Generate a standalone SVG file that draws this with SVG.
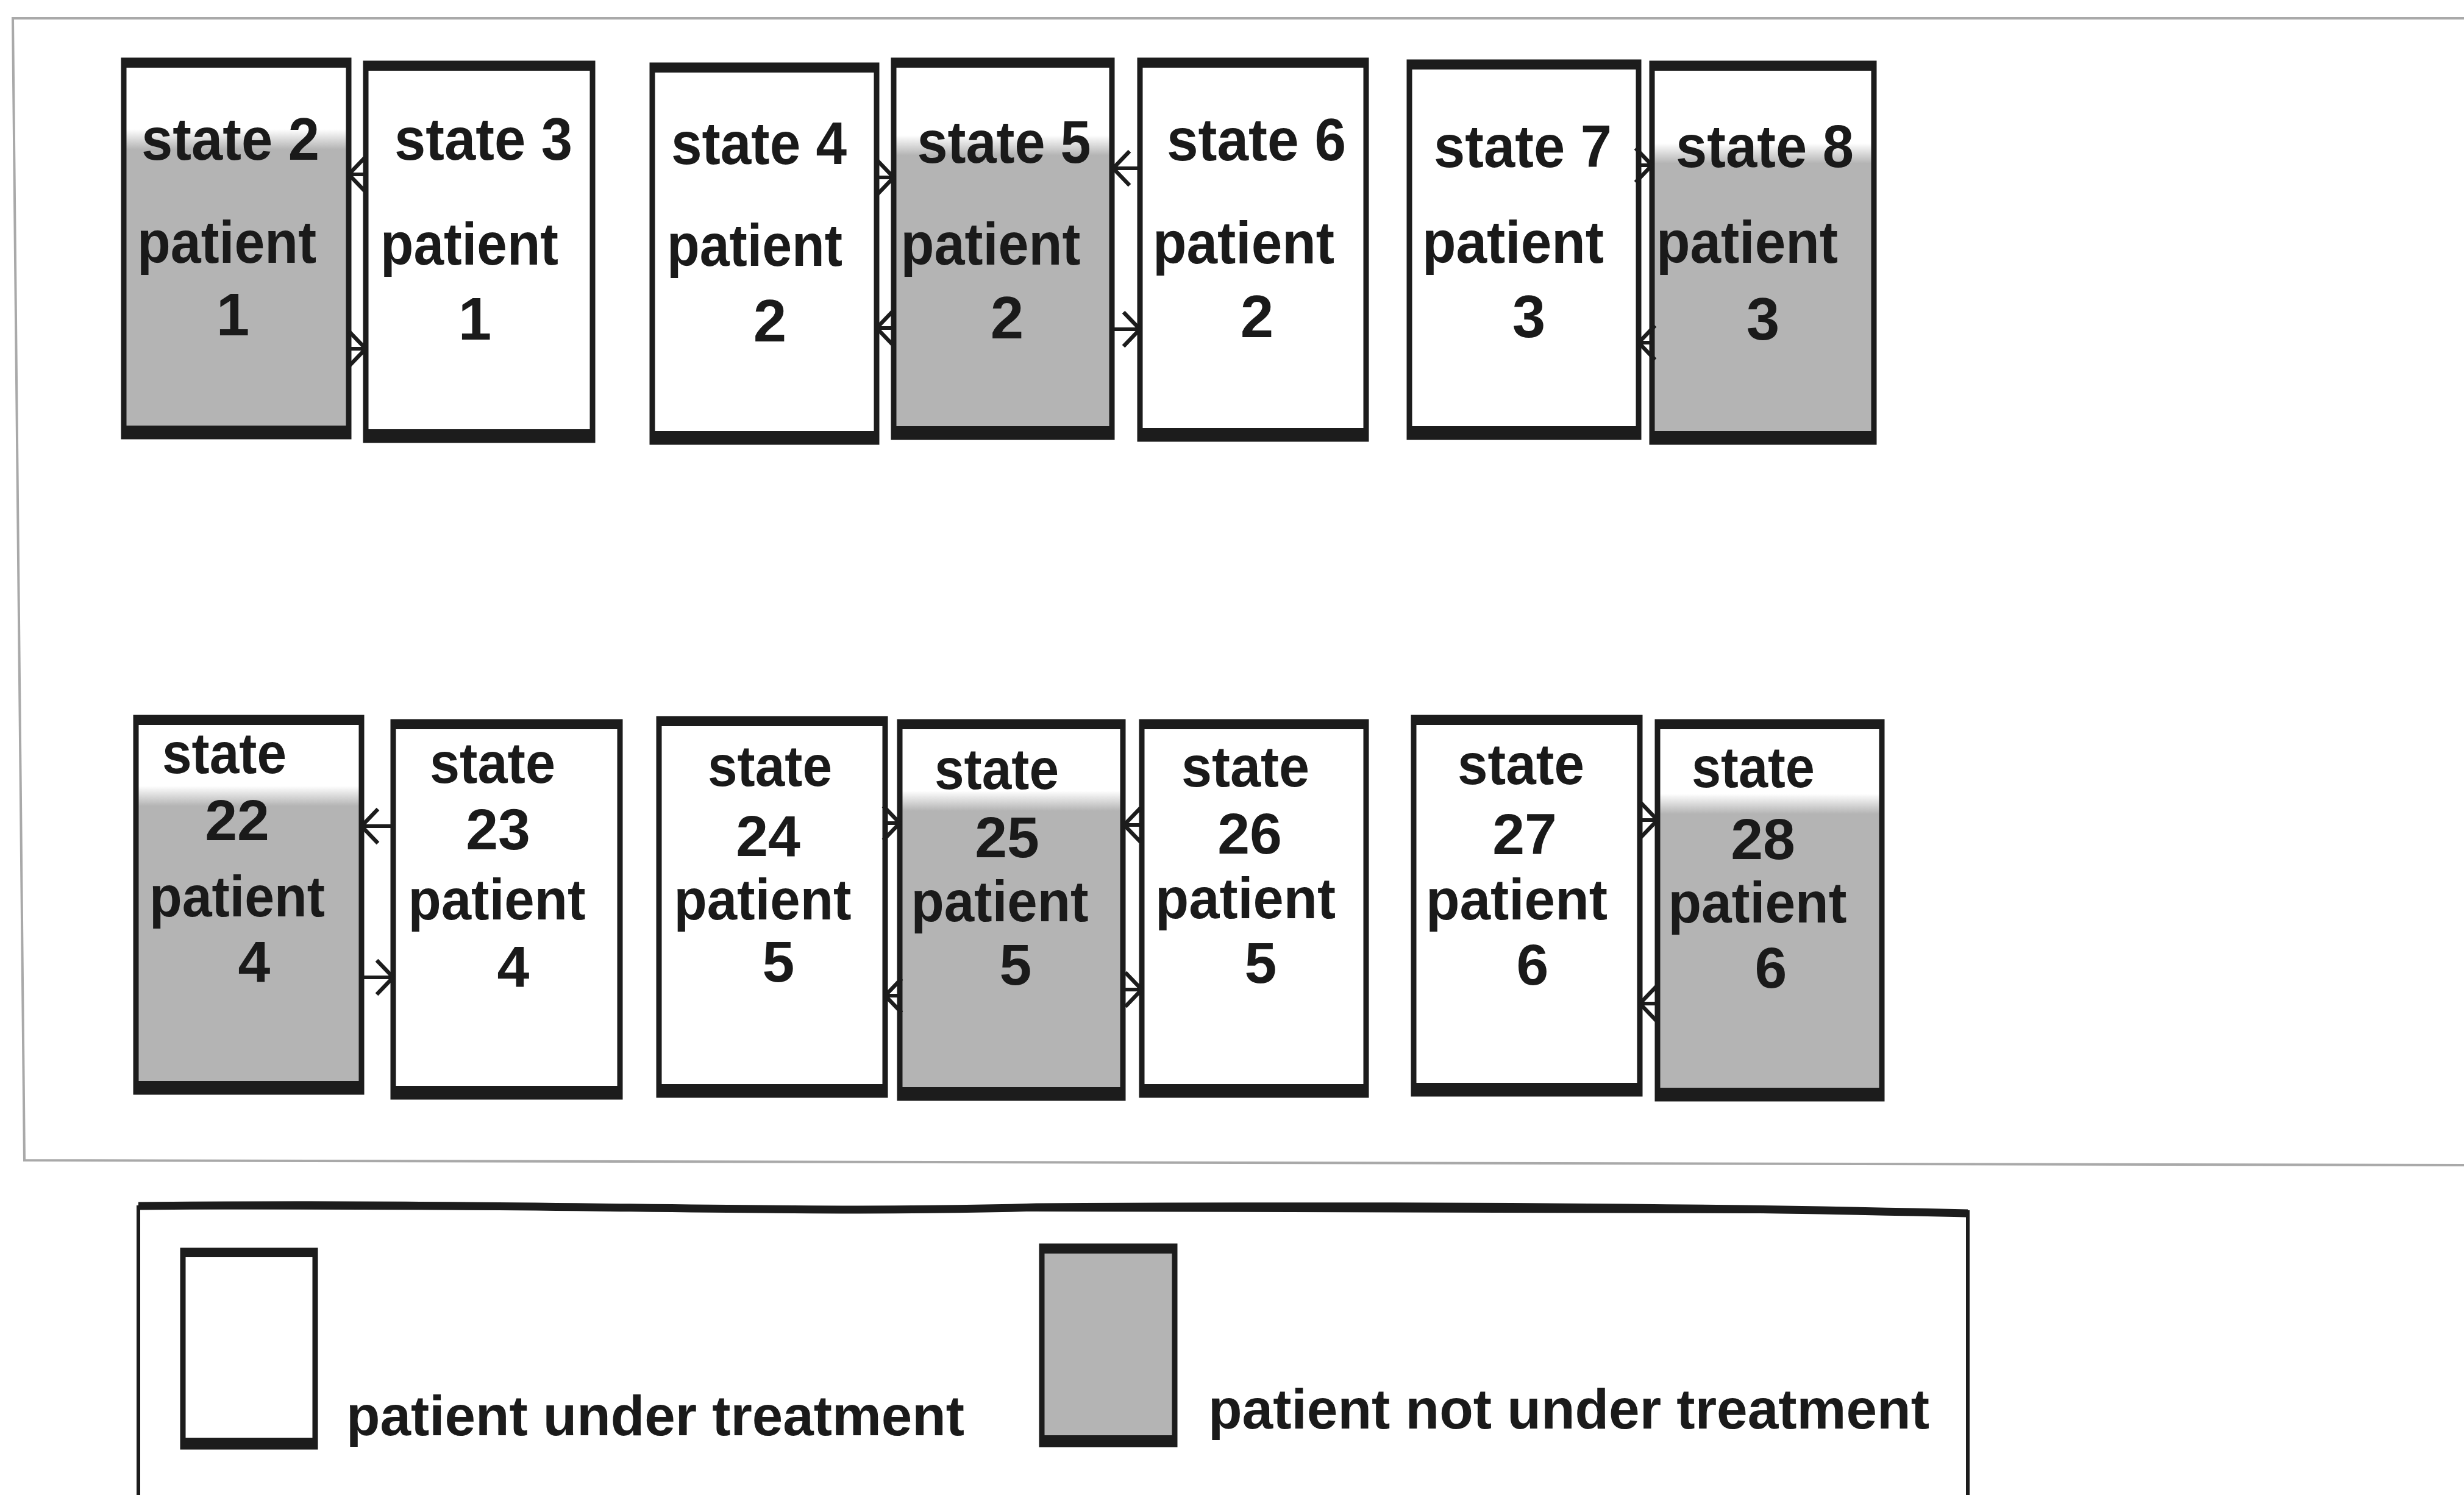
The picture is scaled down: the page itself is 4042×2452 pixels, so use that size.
<svg xmlns="http://www.w3.org/2000/svg" width="4042" height="2452" viewBox="0 0 4042 2452">
  <style>
    .paper { fill: #ffffff; }
    .shade { fill: #b4b4b4; }
    .fade { fill: url(#fadeGray); }
    .outline { fill: none; stroke: #1c1c1c; stroke-width: 9; }
    .bar { fill: #1c1c1c; }
    .lbl { font-family: "Liberation Sans", Arial, sans-serif; font-weight: bold; font-size: 98px; fill: #1a1a1a; text-anchor: middle; }
    .lbl.sm { font-size: 95px; }
    .conn line { stroke: #1c1c1c; stroke-width: 6; marker-end: url(#head); }
    .panel { fill: none; stroke: #a9a9a9; stroke-width: 4; }
    .legend-frame { fill: none; stroke: #1c1c1c; stroke-width: 6; }
    .legend-text { font-family: "Liberation Sans", Arial, sans-serif; font-weight: bold; font-size: 92px; fill: #1a1a1a; }
  </style>
  <defs>
    <linearGradient id="fadeGray" x1="0" y1="0" x2="0" y2="1">
      <stop offset="0" stop-color="#ffffff"/>
      <stop offset="1" stop-color="#b4b4b4"/>
    </linearGradient>
    <marker id="head" viewBox="0 0 34 64" refX="31" refY="32" markerWidth="34" markerHeight="64" markerUnits="userSpaceOnUse" orient="auto">
      <path d="M4,4 L31,32 L4,60" fill="none" stroke="#1c1c1c" stroke-width="6.5"/>
    </marker>
  </defs>

  <rect x="0" y="0" width="4042" height="2452" fill="#ffffff"/>

  <!-- panel holding the state chain -->
  <path class="panel" d="M4042,30 L21,30 L40,1903 L4042,1911"/>

  <!-- top row: patients 1-3 -->
  <g id="state-2">
    <rect class="paper" x="203" y="99" width="369" height="617"/>
    <rect class="fade" x="203" y="212" width="369" height="33"/>
    <rect class="shade" x="203" y="245" width="369" height="471"/>
    <rect class="outline" x="203" y="99" width="369" height="617"/>
    <rect class="bar" x="203" y="99" width="369" height="12"/>
    <rect class="bar" x="203" y="698" width="369" height="18"/>
    <text class="lbl" x="378" y="262" textLength="292" lengthAdjust="spacingAndGlyphs">state 2</text>
    <text class="lbl" x="372" y="431" textLength="294" lengthAdjust="spacingAndGlyphs">patient</text>
    <text class="lbl" x="382" y="550">1</text>
  </g>
  <g id="state-3">
    <rect class="paper" x="600" y="104" width="372" height="618"/>
    <rect class="outline" x="600" y="104" width="372" height="618"/>
    <rect class="bar" x="600" y="104" width="372" height="12"/>
    <rect class="bar" x="600" y="704" width="372" height="18"/>
    <text class="lbl" x="793" y="262" textLength="292" lengthAdjust="spacingAndGlyphs">state 3</text>
    <text class="lbl" x="770" y="434" textLength="292" lengthAdjust="spacingAndGlyphs">patient</text>
    <text class="lbl" x="779" y="557">1</text>
  </g>
  <g id="state-4">
    <rect class="paper" x="1070" y="107" width="368" height="618"/>
    <rect class="outline" x="1070" y="107" width="368" height="618"/>
    <rect class="bar" x="1070" y="107" width="368" height="12"/>
    <rect class="bar" x="1070" y="707" width="368" height="18"/>
    <text class="lbl" x="1245" y="269" textLength="288" lengthAdjust="spacingAndGlyphs">state 4</text>
    <text class="lbl" x="1238" y="436" textLength="288" lengthAdjust="spacingAndGlyphs">patient</text>
    <text class="lbl" x="1263" y="560">2</text>
  </g>
  <g id="state-5">
    <rect class="paper" x="1466" y="99" width="358" height="618"/>
    <rect class="fade" x="1466" y="222" width="358" height="33"/>
    <rect class="shade" x="1466" y="255" width="358" height="462"/>
    <rect class="outline" x="1466" y="99" width="358" height="618"/>
    <rect class="bar" x="1466" y="99" width="358" height="12"/>
    <rect class="bar" x="1466" y="699" width="358" height="18"/>
    <text class="lbl" x="1647" y="267" textLength="285" lengthAdjust="spacingAndGlyphs">state 5</text>
    <text class="lbl" x="1625" y="434" textLength="295" lengthAdjust="spacingAndGlyphs">patient</text>
    <text class="lbl" x="1652" y="555">2</text>
  </g>
  <g id="state-6">
    <rect class="paper" x="1870" y="99" width="371" height="621"/>
    <rect class="outline" x="1870" y="99" width="371" height="621"/>
    <rect class="bar" x="1870" y="99" width="371" height="12"/>
    <rect class="bar" x="1870" y="702" width="371" height="18"/>
    <text class="lbl" x="2061" y="263" textLength="294" lengthAdjust="spacingAndGlyphs">state 6</text>
    <text class="lbl" x="2040" y="432" textLength="298" lengthAdjust="spacingAndGlyphs">patient</text>
    <text class="lbl" x="2062" y="553">2</text>
  </g>
  <g id="state-7">
    <rect class="paper" x="2312" y="102" width="376" height="615"/>
    <rect class="outline" x="2312" y="102" width="376" height="615"/>
    <rect class="bar" x="2312" y="102" width="376" height="12"/>
    <rect class="bar" x="2312" y="699" width="376" height="18"/>
    <text class="lbl" x="2498" y="274" textLength="292" lengthAdjust="spacingAndGlyphs">state 7</text>
    <text class="lbl" x="2482" y="431" textLength="298" lengthAdjust="spacingAndGlyphs">patient</text>
    <text class="lbl" x="2508" y="553">3</text>
  </g>
  <g id="state-8">
    <rect class="paper" x="2710" y="104" width="364" height="621"/>
    <rect class="fade" x="2710" y="235" width="364" height="33"/>
    <rect class="shade" x="2710" y="268" width="364" height="457"/>
    <rect class="outline" x="2710" y="104" width="364" height="621"/>
    <rect class="bar" x="2710" y="104" width="364" height="12"/>
    <rect class="bar" x="2710" y="707" width="364" height="18"/>
    <text class="lbl" x="2895" y="274" textLength="292" lengthAdjust="spacingAndGlyphs">state 8</text>
    <text class="lbl" x="2866" y="431" textLength="298" lengthAdjust="spacingAndGlyphs">patient</text>
    <text class="lbl" x="2892" y="557">3</text>
  </g>

  <!-- bottom row: patients 4-6 -->
  <g id="state-22">
    <rect class="paper" x="223" y="1177" width="370" height="614"/>
    <rect class="fade" x="223" y="1289" width="370" height="33"/>
    <rect class="shade" x="223" y="1322" width="370" height="469"/>
    <rect class="outline" x="223" y="1177" width="370" height="614"/>
    <rect class="bar" x="223" y="1177" width="370" height="12"/>
    <rect class="bar" x="223" y="1773" width="370" height="18"/>
    <text class="lbl sm" x="368" y="1268" textLength="204" lengthAdjust="spacingAndGlyphs">state</text>
    <text class="lbl sm" x="389" y="1378">22</text>
    <text class="lbl sm" x="389" y="1503" textLength="288" lengthAdjust="spacingAndGlyphs">patient</text>
    <text class="lbl sm" x="417" y="1610">4</text>
  </g>
  <g id="state-23">
    <rect class="paper" x="645" y="1184" width="372" height="615"/>
    <rect class="outline" x="645" y="1184" width="372" height="615"/>
    <rect class="bar" x="645" y="1184" width="372" height="12"/>
    <rect class="bar" x="645" y="1781" width="372" height="18"/>
    <text class="lbl sm" x="808" y="1284" textLength="206" lengthAdjust="spacingAndGlyphs">state</text>
    <text class="lbl sm" x="817" y="1393">23</text>
    <text class="lbl sm" x="815" y="1508" textLength="291" lengthAdjust="spacingAndGlyphs">patient</text>
    <text class="lbl sm" x="842" y="1618">4</text>
  </g>
  <g id="state-24">
    <rect class="paper" x="1081" y="1179" width="371" height="617"/>
    <rect class="outline" x="1081" y="1179" width="371" height="617"/>
    <rect class="bar" x="1081" y="1179" width="371" height="12"/>
    <rect class="bar" x="1081" y="1778" width="371" height="18"/>
    <text class="lbl sm" x="1263" y="1289" textLength="204" lengthAdjust="spacingAndGlyphs">state</text>
    <text class="lbl sm" x="1260" y="1404">24</text>
    <text class="lbl sm" x="1251" y="1508" textLength="291" lengthAdjust="spacingAndGlyphs">patient</text>
    <text class="lbl sm" x="1277" y="1610">5</text>
  </g>
  <g id="state-25">
    <rect class="paper" x="1476" y="1184" width="366" height="617"/>
    <rect class="fade" x="1476" y="1297" width="366" height="33"/>
    <rect class="shade" x="1476" y="1330" width="366" height="471"/>
    <rect class="outline" x="1476" y="1184" width="366" height="617"/>
    <rect class="bar" x="1476" y="1184" width="366" height="12"/>
    <rect class="bar" x="1476" y="1783" width="366" height="18"/>
    <text class="lbl sm" x="1635" y="1294" textLength="204" lengthAdjust="spacingAndGlyphs">state</text>
    <text class="lbl sm" x="1652" y="1406">25</text>
    <text class="lbl sm" x="1640" y="1511" textLength="291" lengthAdjust="spacingAndGlyphs">patient</text>
    <text class="lbl sm" x="1666" y="1615">5</text>
  </g>
  <g id="state-26">
    <rect class="paper" x="1873" y="1184" width="368" height="612"/>
    <rect class="outline" x="1873" y="1184" width="368" height="612"/>
    <rect class="bar" x="1873" y="1184" width="368" height="12"/>
    <rect class="bar" x="1873" y="1778" width="368" height="18"/>
    <text class="lbl sm" x="2043" y="1290" textLength="210" lengthAdjust="spacingAndGlyphs">state</text>
    <text class="lbl sm" x="2050" y="1400">26</text>
    <text class="lbl sm" x="2043" y="1506" textLength="296" lengthAdjust="spacingAndGlyphs">patient</text>
    <text class="lbl sm" x="2068" y="1612">5</text>
  </g>
  <g id="state-27">
    <rect class="paper" x="2319" y="1177" width="371" height="617"/>
    <rect class="outline" x="2319" y="1177" width="371" height="617"/>
    <rect class="bar" x="2319" y="1177" width="371" height="12"/>
    <rect class="bar" x="2319" y="1776" width="371" height="18"/>
    <text class="lbl sm" x="2495" y="1286" textLength="208" lengthAdjust="spacingAndGlyphs">state</text>
    <text class="lbl sm" x="2501" y="1401">27</text>
    <text class="lbl sm" x="2488" y="1508" textLength="298" lengthAdjust="spacingAndGlyphs">patient</text>
    <text class="lbl sm" x="2514" y="1615">6</text>
  </g>
  <g id="state-28">
    <rect class="paper" x="2719" y="1184" width="368" height="618"/>
    <rect class="fade" x="2719" y="1302" width="368" height="33"/>
    <rect class="shade" x="2719" y="1335" width="368" height="467"/>
    <rect class="outline" x="2719" y="1184" width="368" height="618"/>
    <rect class="bar" x="2719" y="1184" width="368" height="12"/>
    <rect class="bar" x="2719" y="1784" width="368" height="18"/>
    <text class="lbl sm" x="2876" y="1291" textLength="202" lengthAdjust="spacingAndGlyphs">state</text>
    <text class="lbl sm" x="2892" y="1409">28</text>
    <text class="lbl sm" x="2883" y="1513" textLength="293" lengthAdjust="spacingAndGlyphs">patient</text>
    <text class="lbl sm" x="2905" y="1620">6</text>
  </g>

  <!-- transitions between neighbouring states -->
  <g id="connectors" class="conn">
    <line x1="602" y1="286" x2="572" y2="286"/>
    <line x1="570" y1="572" x2="600" y2="572"/>
    <line x1="1436" y1="291" x2="1466" y2="291"/>
    <line x1="1468" y1="538" x2="1438" y2="538"/>
    <line x1="1870" y1="276" x2="1826" y2="276"/>
    <line x1="1824" y1="540" x2="1870" y2="540"/>
    <line x1="2686" y1="271" x2="2710" y2="271"/>
    <line x1="2712" y1="562" x2="2688" y2="562"/>

    <line x1="645" y1="1355" x2="593" y2="1355"/>
    <line x1="593" y1="1603" x2="645" y2="1603"/>
    <line x1="1450" y1="1350" x2="1476" y2="1350"/>
    <line x1="1478" y1="1633" x2="1452" y2="1633"/>
    <line x1="1873" y1="1353" x2="1844" y2="1353"/>
    <line x1="1842" y1="1623" x2="1873" y2="1623"/>
    <line x1="2688" y1="1345" x2="2719" y2="1345"/>
    <line x1="2721" y1="1646" x2="2690" y2="1646"/>
  </g>

  <!-- key -->
  <g id="legend">
    <rect class="paper" x="227" y="1980" width="3001" height="470"/>
    <path class="legend-frame" d="M227,2452 L227,1980 L3228,1988 L3228,2452"/>
    <path d="M227,1978 C900,1972 1300,1992 1700,1980 C2400,1976 2900,1982 3228,1990" fill="none" stroke="#1c1c1c" stroke-width="13"/>
    <g id="legend-under">
      <rect class="paper" x="300" y="2051" width="217" height="322"/>
      <rect class="outline" x="300" y="2051" width="217" height="322"/>
      <rect class="bar" x="300" y="2051" width="217" height="11"/>
      <rect class="bar" x="300" y="2358" width="217" height="15"/>
      <text class="legend-text" x="568" y="2354" textLength="1014" lengthAdjust="spacingAndGlyphs">patient under treatment</text>
    </g>
    <g id="legend-not-under">
      <rect class="shade" x="1709" y="2044" width="218" height="325"/>
      <rect class="outline" x="1709" y="2044" width="218" height="325"/>
      <rect class="bar" x="1709" y="2044" width="218" height="12"/>
      <rect class="bar" x="1709" y="2354" width="218" height="15"/>
      <text class="legend-text" x="1982" y="2343" textLength="1183" lengthAdjust="spacingAndGlyphs">patient not under treatment</text>
    </g>
  </g>
</svg>
